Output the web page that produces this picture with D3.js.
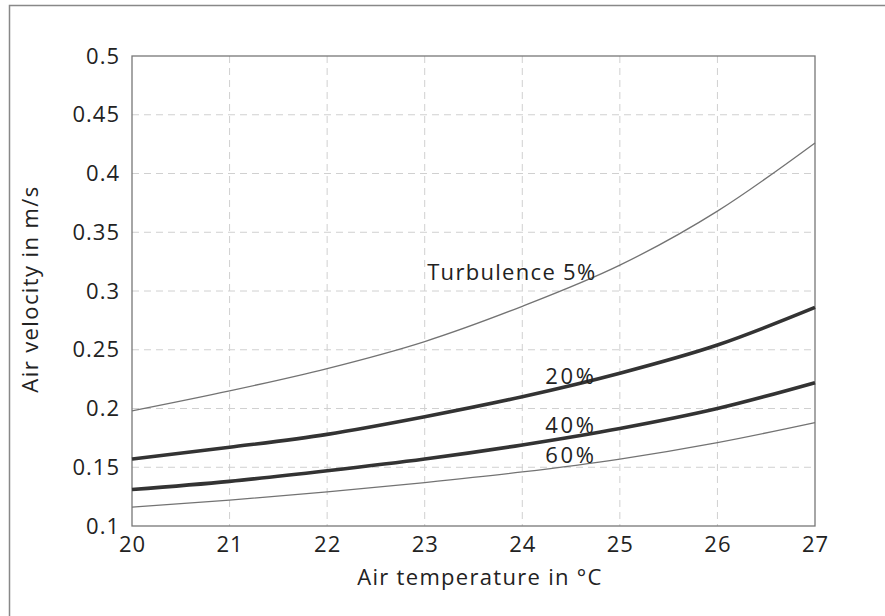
<!DOCTYPE html>
<html>
<head>
<meta charset="utf-8">
<script src="https://cdn.jsdelivr.net/npm/d3@7"></script>
<style>
  body { margin: 0; background: #fff; }
  svg text { font-family: "Open Sans", sans-serif; fill: #222; }
</style>
</head>
<body>
<svg id="chart" width="885" height="616"></svg>
<script>
//
// Data
//
var temps = [20, 21, 22, 23, 24, 25, 26, 27];
var tu05 = [0.198, 0.215, 0.234, 0.257, 0.287, 0.322, 0.368, 0.426];
var tu20 = [0.157, 0.167, 0.178, 0.193, 0.210, 0.230, 0.254, 0.286];
var tu40 = [0.131, 0.138, 0.147, 0.157, 0.169, 0.183, 0.200, 0.222];
var tu60 = [0.116, 0.122, 0.129, 0.137, 0.146, 0.157, 0.171, 0.188];

var xTicks = [20, 21, 22, 23, 24, 25, 26, 27];
var yTicks = [0.1, 0.15, 0.2, 0.25, 0.3, 0.35, 0.4, 0.45, 0.5];

// label anchor (right end) in data units
var series = [
    {name: "Turbulence 5%", values: tu05, heavy: false, lx: 24.76, ly: 0.309, ls: 1.3},
    {name: "20%", values: tu20, heavy: true, lx: 24.76, ly: 0.2205, ls: 2.6},
    {name: "40%", values: tu40, heavy: true, lx: 24.76, ly: 0.179, ls: 2.6},
    {name: "60%", values: tu60, heavy: false, lx: 24.76, ly: 0.1535, ls: 2.6}
];

//
// Layout
//
var svg = d3.select("#chart");
var pLeft = 132, pRight = 815, pTop = 56, pBottom = 526;

var x = d3.scaleLinear().domain([20, 27]).range([pLeft, pRight]);
var y = d3.scaleLinear().domain([0.1, 0.5]).range([pBottom, pTop]);

// outer frame
svg.append("rect")
    .attr("x", 9.5).attr("y", 5.5)
    .attr("width", 900).attr("height", 700)
    .attr("fill", "none").attr("stroke", "#888").attr("stroke-width", 1.5);

// grid
var grid = svg.append("g").attr("stroke", "#d0d0d0").attr("stroke-width", 1)
    .attr("stroke-dasharray", "7,5");
grid.selectAll("line.v").data(xTicks.slice(1, -1)).enter().append("line")
    .attr("x1", function (d) { return x(d); }).attr("x2", function (d) { return x(d); })
    .attr("y1", pTop).attr("y2", pBottom);
grid.selectAll("line.h").data(yTicks.slice(1, -1)).enter().append("line")
    .attr("y1", function (d) { return y(d); }).attr("y2", function (d) { return y(d); })
    .attr("x1", pLeft).attr("x2", pRight);

// axes
var xAxis = d3.axisBottom(x).tickValues(xTicks).tickSize(0).tickPadding(10)
    .tickFormat(d3.format("d"));
var yAxis = d3.axisLeft(y).tickValues(yTicks).tickSize(0).tickPadding(12)
    .tickFormat(function (d) { return String(+d.toFixed(2)); });

var gx = svg.append("g").attr("transform", "translate(0," + pBottom + ")").call(xAxis);
var gy = svg.append("g").attr("transform", "translate(" + pLeft + ",0)").call(yAxis);
[gx, gy].forEach(function (g) {
    g.select(".domain").remove();
    g.selectAll("text")
        .style("font-size", "22px")
        .style("letter-spacing", "1px")
        .attr("fill", "#222");
});

// plot box
svg.append("rect")
    .attr("x", pLeft).attr("y", pTop)
    .attr("width", pRight - pLeft).attr("height", pBottom - pTop)
    .attr("fill", "none").attr("stroke", "#777").attr("stroke-width", 1.3);

// curves
var line = d3.line()
    .x(function (d, i) { return x(temps[i]); })
    .y(function (d) { return y(d); })
    .curve(d3.curveMonotoneX);

svg.selectAll("path.curve").data(series).enter().append("path")
    .attr("class", "curve")
    .attr("d", function (d) { return line(d.values); })
    .attr("fill", "none")
    .attr("stroke", function (d) { return d.heavy ? "#333" : "#737373"; })
    .attr("stroke-width", function (d) { return d.heavy ? 3.6 : 1.3; });

svg.selectAll("text.lbl").data(series).enter().append("text")
    .attr("class", "lbl")
    .attr("x", function (d) { return x(d.lx); })
    .attr("y", function (d) { return y(d.ly); })
    .attr("text-anchor", "end")
    .style("font-size", "22px")
    .style("letter-spacing", function (d) { return d.ls + "px"; })
    .text(function (d) { return d.name; });

// axis titles
svg.append("text")
    .attr("x", 480).attr("y", 585)
    .attr("text-anchor", "middle")
    .style("font-size", "22px").style("letter-spacing", "1.3px")
    .text("Air temperature in °C");
svg.append("text")
    .attr("transform", "translate(38,289) rotate(-90)")
    .attr("text-anchor", "middle")
    .style("font-size", "22px").style("letter-spacing", "1.4px")
    .text("Air velocity in m/s");
</script>
</body>
</html>
